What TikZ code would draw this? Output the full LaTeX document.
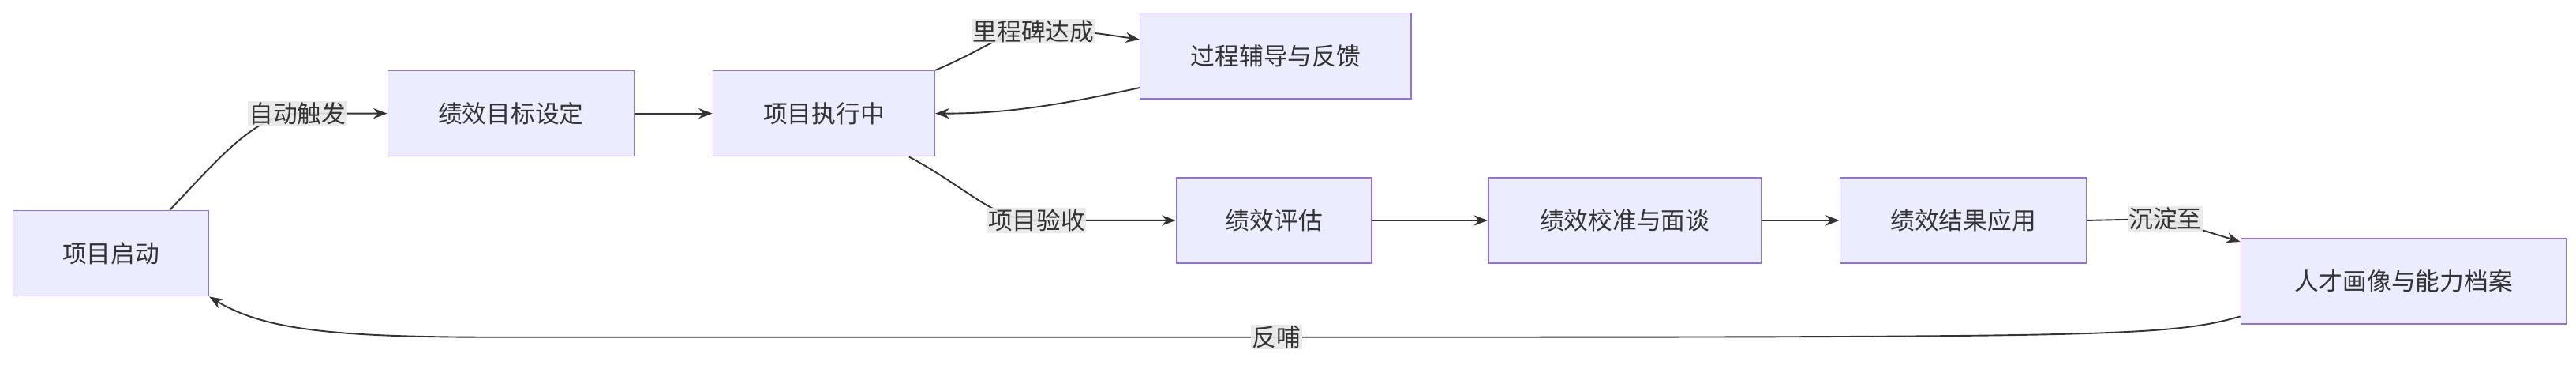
\documentclass[tikz,border=0pt]{standalone}
\usepackage{fontspec}
\setmainfont{Noto Sans CJK SC}
\usetikzlibrary{arrows.meta}
\definecolor{boxfill}{HTML}{ECECFF}
\definecolor{boxline}{HTML}{9370DB}
\definecolor{edgeline}{HTML}{333333}
\definecolor{lblfill}{HTML}{E8E8E8}
\begin{document}
\begin{tikzpicture}[x=0.05cm,y=-0.05cm,
	box/.style={draw=boxline,fill=boxfill,line width=1pt,minimum height=2.6cm,
		font=\fontsize{21}{25}\selectfont,text=edgeline},
	lbl/.style={fill=lblfill,fill opacity=0.9,text opacity=1,inner sep=1pt,
		font=\fontsize{21}{25}\selectfont,text=edgeline},
	flow/.style={draw=edgeline,line width=1.3pt,-{Stealth[length=12pt,width=9pt]}}]

	\useasboundingbox (0,0) rectangle (1568,224);

	\node[box,minimum width=5.95cm] (start) at (67.5,154) {项目启动};
	\node[box,minimum width=7.5cm] (goal) at (311,69) {绩效目标设定};
	\node[box,minimum width=6.75cm] (exec) at (501.5,69) {项目执行中};
	\node[box,minimum width=8.25cm] (coach) at (776.5,34) {过程辅导与反馈};
	\node[box,minimum width=5.95cm] (eval) at (775.5,134) {绩效评估};
	\node[box,minimum width=8.3cm] (calib) at (989,134) {绩效校准与面谈};
	\node[box,minimum width=7.5cm] (apply) at (1195,134) {绩效结果应用};
	\node[box,minimum width=9.9cm] (talent) at (1463,171) {人才画像与能力档案};

	\coordinate (l1) at (181,69);
	\coordinate (l2) at (629,19);
	\coordinate (l3) at (631,134);
	\coordinate (l4) at (1318,133);
	\coordinate (l5) at (777,205);

	% edges
	\draw[flow] (start.north east) ++(-24,0) .. controls (130,100) and (155,69) .. (l1) -- (goal.west);
	\draw[flow] (goal) -- (exec);
	\draw[flow] (exec.north east) .. controls (600,30) and (610,19) .. (l2) .. controls (660,19) .. (coach.west |- 0,24);
	\draw[flow] (coach.south west) ++(0,-7) .. controls (640,65) and (610,69) .. (exec.east);
	\draw[flow] (exec.south east) ++(-16,0) .. controls (590,115) and (605,134) .. (l3) .. controls (680,134) .. (eval.west);
	\draw[flow] (eval) -- (calib);
	\draw[flow] (calib) -- (apply);
	\draw[flow] (apply.east) -- (l4) -- (talent.north west |- 0,147);
	\draw[flow] (talent.south west) ++(0,-5) .. controls (1320,205) and (1280,205) .. (l5)
		-- (300,205) .. controls (200,205) and (160,200) .. (start.south east);

	\node[lbl] at (l1) {自动触发};
	\node[lbl] at (l2) {里程碑达成};
	\node[lbl] at (l3) {项目验收};
	\node[lbl] at (l4) {沉淀至};
	\node[lbl] at (l5) {反哺};
\end{tikzpicture}
\end{document}
